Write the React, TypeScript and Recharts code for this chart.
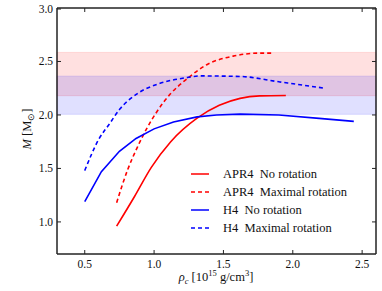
import React from "react";
import { LineChart, Line, XAxis, YAxis, ReferenceArea, Legend } from "recharts";

// ---- data ----
const xTicks = [0.5, 1.0, 1.5, 2.0, 2.5];
const yTicks = [1.0, 1.5, 2.0, 2.5, 3.0];

const apr4NoRot = [
  { x: 0.73, y: 0.96 }, { x: 0.86, y: 1.24 }, { x: 0.98, y: 1.51 }, { x: 1.12, y: 1.75 },
  { x: 1.31, y: 1.97 }, { x: 1.47, y: 2.09 }, { x: 1.62, y: 2.155 }, { x: 1.76, y: 2.178 },
  { x: 1.95, y: 2.182 },
];
const apr4MaxRot = [
  { x: 0.73, y: 1.18 }, { x: 0.81, y: 1.49 }, { x: 0.88, y: 1.7 }, { x: 0.95, y: 1.88 },
  { x: 1.02, y: 2.03 }, { x: 1.12, y: 2.2 }, { x: 1.23, y: 2.33 }, { x: 1.38, y: 2.47 },
  { x: 1.57, y: 2.55 }, { x: 1.76, y: 2.578 }, { x: 1.86, y: 2.578 },
];
const h4NoRot = [
  { x: 0.5, y: 1.19 }, { x: 0.62, y: 1.47 }, { x: 0.75, y: 1.66 }, { x: 0.87, y: 1.78 },
  { x: 1.0, y: 1.87 }, { x: 1.14, y: 1.935 }, { x: 1.31, y: 1.982 }, { x: 1.45, y: 2.0 },
  { x: 1.62, y: 2.008 }, { x: 1.9, y: 2.0 }, { x: 2.19, y: 1.968 }, { x: 2.44, y: 1.94 },
];
const h4MaxRot = [
  { x: 0.5, y: 1.48 }, { x: 0.6, y: 1.77 }, { x: 0.68, y: 1.92 }, { x: 0.75, y: 2.05 },
  { x: 0.88, y: 2.2 }, { x: 1.03, y: 2.29 }, { x: 1.24, y: 2.35 }, { x: 1.33, y: 2.365 },
  { x: 1.62, y: 2.36 }, { x: 1.9, y: 2.31 }, { x: 2.23, y: 2.25 },
];
const redBand = [2.18, 2.585];
const blueBand = [2.006, 2.363];
const xDomain = [0.3, 2.6];
const yDomain = [0.7, 3.0];

const legendItems = [
  { label: "APR4  No rotation", color: "#ff0000", dash: undefined },
  { label: "APR4  Maximal rotation", color: "#ff0000", dash: "4 3" },
  { label: "H4  No rotation", color: "#0000ff", dash: undefined },
  { label: "H4  Maximal rotation", color: "#0000ff", dash: "4 3" },
];

const FONT = "Liberation Serif";
const FRAME = "#222";

const BottomTick = (p: any) => (
  <g>
    <line x1={p.x} x2={p.x} y1={p.y} y2={p.y - 4} stroke={FRAME} strokeWidth={1} />
    <text x={p.x} y={p.y + 14} textAnchor="middle" fontFamily={FONT} fontSize={11.5} fill="#111">
      {Number(p.payload.value).toFixed(1)}
    </text>
  </g>
);
const TopTick = (p: any) => (
  <line x1={p.x} x2={p.x} y1={p.y} y2={p.y + 4} stroke={FRAME} strokeWidth={1} />
);
const LeftTick = (p: any) => (
  <g>
    <line x1={p.x} x2={p.x + 4} y1={p.y} y2={p.y} stroke={FRAME} strokeWidth={1} />
    <text x={p.x - 4} y={p.y + 4} textAnchor="end" fontFamily={FONT} fontSize={11.5} fill="#111">
      {Number(p.payload.value).toFixed(1)}
    </text>
  </g>
);
const RightTick = (p: any) => (
  <line x1={p.x} x2={p.x - 4} y1={p.y} y2={p.y} stroke={FRAME} strokeWidth={1} />
);

const LegendBox = () => (
  <svg width={190} height={80} style={{ display: "block" }}>
    {legendItems.map((it, i) => (
      <g key={it.label}>
        <line x1={3} x2={21} y1={10 + i * 18} y2={10 + i * 18} stroke={it.color} strokeWidth={1.5} strokeDasharray={it.dash} />
        <text x={35} y={14 + i * 18} fontFamily={FONT} fontSize={12.5} fill="#111" style={{ whiteSpace: "pre" }} xmlSpace="preserve">
          {it.label}
        </text>
      </g>
    ))}
  </svg>
);

export default function App() {
  return (
    <div style={{ position: "fixed", left: 0, top: 0, width: 382, height: 291, background: "#fff" }}>
      <LineChart width={382} height={291} margin={{ top: 7, right: 5, bottom: 0, left: 0 }}>
        <XAxis
          type="number" dataKey="x" domain={xDomain} ticks={xTicks} allowDataOverflow
          height={37} tickSize={0} tickMargin={0} tickLine={false}
          axisLine={{ stroke: FRAME, strokeWidth: 1 }} tick={<BottomTick />}
        />
        <XAxis
          xAxisId="top" orientation="top" type="number" dataKey="x" domain={xDomain} ticks={xTicks} allowDataOverflow
          height={1} tickSize={0} tickMargin={0} tickLine={false}
          axisLine={{ stroke: FRAME, strokeWidth: 1 }} tick={<TopTick />}
        />
        <YAxis
          type="number" domain={yDomain} ticks={yTicks} allowDataOverflow
          width={57} tickSize={0} tickMargin={0} tickLine={false}
          axisLine={{ stroke: FRAME, strokeWidth: 1 }} tick={<LeftTick />}
        />
        <YAxis
          yAxisId="right" orientation="right" type="number" domain={yDomain} ticks={yTicks} allowDataOverflow
          width={1} tickSize={0} tickMargin={0} tickLine={false}
          axisLine={{ stroke: FRAME, strokeWidth: 1 }} tick={<RightTick />}
        />
        <ReferenceArea y1={redBand[0]} y2={redBand[1]} fill="#ff0000" fillOpacity={0.12} stroke="#ff0000" strokeOpacity={0.12} />
        <ReferenceArea y1={blueBand[0]} y2={blueBand[1]} fill="#0000ff" fillOpacity={0.12} stroke="#0000ff" strokeOpacity={0.12} />
        <Line data={apr4NoRot} dataKey="y" type="monotone" stroke="#ff0000" strokeWidth={1.6} dot={false} isAnimationActive={false} />
        <Line data={apr4MaxRot} dataKey="y" type="monotone" stroke="#ff0000" strokeWidth={1.6} strokeDasharray="4 3" dot={false} isAnimationActive={false} />
        <Line data={h4NoRot} dataKey="y" type="linear" stroke="#0000ff" strokeWidth={1.6} dot={false} isAnimationActive={false} />
        <Line data={h4MaxRot} dataKey="y" type="monotone" stroke="#0000ff" strokeWidth={1.6} strokeDasharray="4 3" dot={false} isAnimationActive={false} />
        <ReferenceArea x1={xDomain[0]} x2={xDomain[1]} y1={yDomain[0]} y2={yDomain[1]} fill="none" stroke={FRAME} strokeWidth={1} ifOverflow="extendDomain" />
        <Legend
          layout="vertical" align="center" verticalAlign="middle"
          content={() => <LegendBox />}
          wrapperStyle={{ position: "absolute", left: 188, top: 164, width: 190, height: 80 }}
        />
      </LineChart>
      <svg width={382} height={291} style={{ position: "absolute", left: 0, top: 0, pointerEvents: "none" }}>
        <text transform="translate(31,129) rotate(-90)" textAnchor="middle" fontFamily={FONT} fontSize={12.5} fill="#111">
          <tspan fontStyle="italic">M</tspan>
          <tspan> [M</tspan>
          <tspan fontSize={8.5} dy={3}>⊙</tspan>
          <tspan dy={-3}>]</tspan>
        </text>
        <text x={216} y={281} textAnchor="middle" fontFamily={FONT} fontSize={12.5} fill="#111">
          <tspan fontStyle="italic">ρ</tspan>
          <tspan fontStyle="italic" fontSize={8.5} dy={3}>c</tspan>
          <tspan dy={-3}> [10</tspan>
          <tspan fontSize={8.5} dy={-5}>15</tspan>
          <tspan dy={5}> g/cm</tspan>
          <tspan fontSize={8.5} dy={-5}>3</tspan>
          <tspan dy={5}>]</tspan>
        </text>
      </svg>
    </div>
  );
}
